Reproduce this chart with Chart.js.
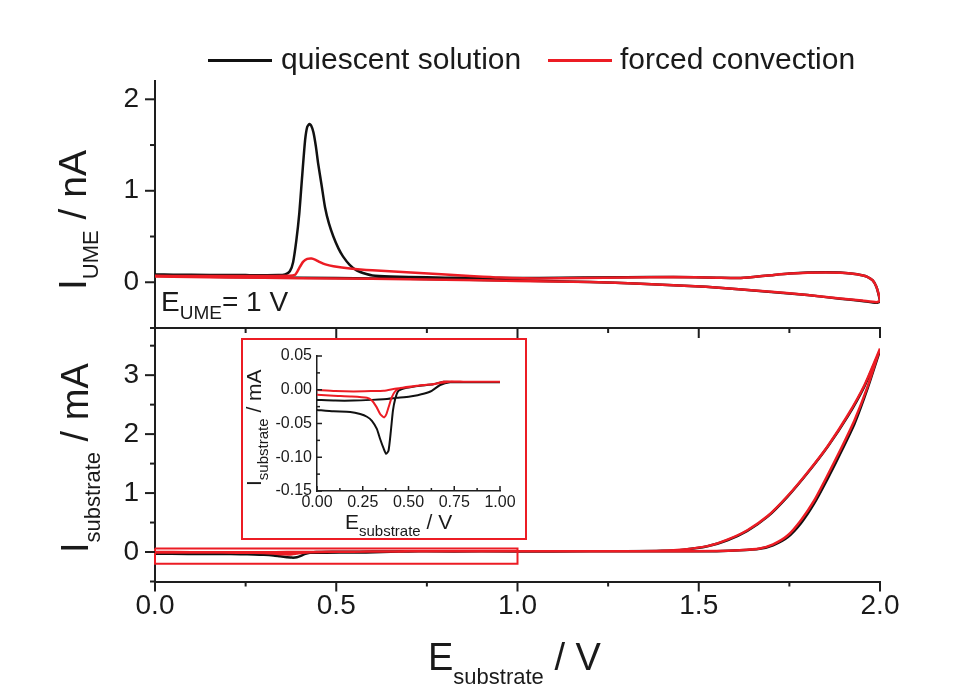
<!DOCTYPE html>
<html>
<head>
<meta charset="utf-8">
<script src="https://cdn.jsdelivr.net/npm/chart.js@4/dist/chart.umd.min.js"></script>
<style>
  html, body { margin: 0; padding: 0; background: #fff; }
  #stage { position: relative; width: 961px; height: 686px; overflow: hidden;
           font-family: 'Liberation Sans', Arial, sans-serif; color: #1a1a1a; }
  #stage canvas { position: absolute; left: 0; top: 0; }
  .txt { position: absolute; white-space: nowrap; line-height: 1; }
  .rot { transform: rotate(-90deg); transform-origin: 0 0; }
  .sub { position: relative; }
  #insetBox { position: absolute; left: 241px; top: 338px; width: 286px; height: 202px;
              box-sizing: border-box; border: 2px solid #ec1c24; background: #fff; }
  .swatch { position: absolute; height: 3px; }
</style>
</head>
<body>
<div id="stage">
  <canvas id="cvSub" width="961" height="686"></canvas>
  <canvas id="cvUme" width="961" height="686"></canvas>
  <div id="insetBox"></div>
  <canvas id="cvInset" width="961" height="686"></canvas>

  <div class="txt rot" style="left:53px; top:290px; font-size:39px;">I<span class="sub" style="font-size:22px; top:12px;">UME</span> / nA</div>
  <div class="txt rot" style="left:56px; top:553px; font-size:38px;">I<span class="sub" style="font-size:22px; top:12px;">substrate</span> / mA</div>
  <div class="txt" style="left:428px; top:638px; font-size:38px;">E<span class="sub" style="font-size:22px; top:14px;">substrate</span> / V</div>
  <div class="txt" style="left:161px; top:288px; font-size:28px;">E<span class="sub" style="font-size:19px; top:8px;">UME</span>= 1 V</div>
  <div class="txt rot" style="left:243px; top:486px; font-size:21px;">I<span class="sub" style="font-size:15px; top:7px;">substrate</span> / mA</div>
  <div class="txt" style="left:345px; top:511px; font-size:21px;">E<span class="sub" style="font-size:15px; top:7px;">substrate</span> / V</div>
  <div id="legend"></div>
</div>

<script>
// ---- series ----
const SERIES = ['quiescent solution', 'forced convection'];
const SERIES_COLORS = ['#111111', '#ec1c24'];

// ---- tick labels ----
const E_TICKS = [0, 0.5, 1.0, 1.5, 2.0];
const UME_TICKS = [0, 1, 2];
const SUB_TICKS = [0, 1, 2, 3];
const INSET_E_TICKS = [0, 0.25, 0.5, 0.75, 1.0];
const INSET_I_TICKS = [-0.15, -0.10, -0.05, 0.00, 0.05];

// ---- UME current (nA), anodic sweep 0 -> 2 V ----
const E_UME_FWD = [0, 0.2, 0.4, 0.6, 0.8, 1.0, 1.2, 1.34, 1.52, 1.7, 1.8, 1.89, 1.95, 1.99];
const I_UME_FWD_QUIESCENT = [0.07, 0.058, 0.05, 0.042, 0.032, 0.018, 0.004, -0.015, -0.05, -0.106, -0.14, -0.18, -0.205, -0.225];
const I_UME_FWD_CONVECTION = [0.062, 0.052, 0.045, 0.038, 0.028, 0.015, 0.002, -0.016, -0.05, -0.104, -0.138, -0.177, -0.2, -0.218];

// ---- UME current (nA), cathodic sweep 2 -> 0 V ----
const E_UME_REV_QUIESCENT = [2.0, 1.997, 1.99, 1.98, 1.965, 1.95, 1.92, 1.89, 1.85, 1.8, 1.75, 1.7, 1.65, 1.61, 1.55, 1.43, 1.3, 1.06, 0.9, 0.8, 0.7, 0.65, 0.6, 0.583, 0.556, 0.537, 0.519, 0.506, 0.492, 0.48, 0.469, 0.46, 0.45, 0.444, 0.437, 0.431, 0.426, 0.42, 0.414, 0.405, 0.398, 0.39, 0.381, 0.372, 0.359, 0.34, 0.25, 0.15, 0.05, 0];
const I_UME_REV_QUIESCENT = [-0.21, -0.15, -0.05, 0.02, 0.06, 0.077, 0.095, 0.106, 0.11, 0.106, 0.095, 0.077, 0.058, 0.047, 0.05, 0.058, 0.055, 0.047, 0.048, 0.05, 0.058, 0.064, 0.075, 0.09, 0.13, 0.19, 0.28, 0.37, 0.5, 0.64, 0.82, 1.05, 1.3, 1.48, 1.64, 1.71, 1.73, 1.7, 1.55, 1.11, 0.75, 0.46, 0.22, 0.12, 0.085, 0.078, 0.078, 0.08, 0.083, 0.085];
const E_UME_REV_CONVECTION = [2.0, 1.997, 1.99, 1.98, 1.965, 1.95, 1.92, 1.89, 1.85, 1.8, 1.75, 1.7, 1.65, 1.61, 1.55, 1.43, 1.3, 1.06, 0.95, 0.88, 0.79, 0.694, 0.6, 0.538, 0.492, 0.47, 0.455, 0.443, 0.432, 0.42, 0.409, 0.4, 0.393, 0.386, 0.37, 0.3, 0.2, 0.1, 0];
const I_UME_REV_CONVECTION = [-0.2, -0.14, -0.05, 0.02, 0.06, 0.077, 0.095, 0.105, 0.108, 0.105, 0.095, 0.077, 0.058, 0.047, 0.05, 0.058, 0.052, 0.042, 0.052, 0.066, 0.087, 0.11, 0.13, 0.15, 0.175, 0.195, 0.22, 0.245, 0.26, 0.255, 0.225, 0.17, 0.12, 0.08, 0.07, 0.068, 0.068, 0.068, 0.07];

// ---- substrate current (mA), anodic sweep 0 -> 2 V ----
const E_SUB_FWD = [0, 0.1, 0.2, 0.3, 0.364, 0.436, 0.509, 0.55, 0.582, 0.627, 0.673, 0.727, 0.8, 0.9, 1.0, 1.2, 1.4, 1.55, 1.613, 1.668, 1.705, 1.745, 1.782, 1.819, 1.856, 1.893, 1.93, 1.966, 2.0];
const I_SUB_FWD_QUIESCENT = [-0.015, -0.016, -0.016, -0.015, -0.014, -0.012, -0.010, -0.008, -0.006, -0.0015, 0.007, 0.011, 0.011, 0.011, 0.011, 0.011, 0.012, 0.015, 0.028, 0.055, 0.115, 0.25, 0.49, 0.83, 1.25, 1.7, 2.18, 2.78, 3.42];
const I_SUB_FWD_CONVECTION = [-0.0005, -0.002, -0.0025, -0.002, -0.0015, 0.002, 0.004, 0.006, 0.007, 0.008, 0.010, 0.012, 0.012, 0.012, 0.012, 0.012, 0.013, 0.016, 0.03, 0.06, 0.13, 0.28, 0.54, 0.88, 1.31, 1.76, 2.24, 2.81, 3.45];

// ---- substrate current (mA), cathodic sweep 2 -> 0 V ----
const E_SUB_REV_QUIESCENT = [2.0, 1.957, 1.911, 1.856, 1.8, 1.745, 1.69, 1.634, 1.579, 1.524, 1.459, 1.4, 1.3, 1.1, 0.9, 0.75, 0.69, 0.636, 0.564, 0.49, 0.445, 0.427, 0.415, 0.404, 0.391, 0.378, 0.364, 0.345, 0.327, 0.3, 0.273, 0.236, 0.182, 0.091, 0];
const I_SUB_REV_QUIESCENT = [3.42, 2.81, 2.3, 1.79, 1.34, 0.94, 0.6, 0.36, 0.2, 0.097, 0.04, 0.02, 0.013, 0.011, 0.011, 0.011, 0.012, 0.008, 0.006, 0.003, -0.0015, -0.014, -0.031, -0.06, -0.09, -0.095, -0.087, -0.073, -0.058, -0.046, -0.04, -0.036, -0.033, -0.032, -0.03];
const E_SUB_REV_CONVECTION = [2.0, 1.957, 1.911, 1.856, 1.8, 1.745, 1.69, 1.634, 1.579, 1.524, 1.459, 1.4, 1.3, 1.1, 0.9, 0.75, 0.69, 0.636, 0.545, 0.455, 0.427, 0.409, 0.391, 0.378, 0.367, 0.356, 0.345, 0.324, 0.3, 0.273, 0.182, 0.091, 0];
const I_SUB_REV_CONVECTION = [3.45, 2.83, 2.32, 1.8, 1.35, 0.95, 0.61, 0.37, 0.21, 0.1, 0.045, 0.022, 0.014, 0.012, 0.012, 0.012, 0.012, 0.008, 0.006, 0.0025, -0.0025, -0.011, -0.026, -0.037, -0.041, -0.039, -0.036, -0.025, -0.016, -0.012, -0.01, -0.009, -0.0075];

// ---- region of the substrate CV enlarged in the inset ----
const ZOOM_E = [0, 1.0];
const ZOOM_I = [-0.2, 0.06];

// ------------------------------------------------------------------
const AXIS_COLOR = '#1e1e1e';
const TEXT_COLOR = '#1a1a1a';
Chart.defaults.font.family = "'Liberation Sans', Arial, sans-serif";
Chart.defaults.color = TEXT_COLOR;

function loop(Ef, If, Er, Ir) {
  return Ef.map((e, i) => ({ x: e, y: If[i] }))
    .concat(Er.map((e, i) => ({ x: e, y: Ir[i] })));
}
function boxPath(E, I) {
  return [
    { x: E[0], y: I[1] }, { x: E[1], y: I[1] }, { x: E[1], y: I[0] },
    { x: E[0], y: I[0] }, { x: E[0], y: I[1] }
  ];
}
const fixedWidth = w => s => { s.width = w; };
const fixedHeight = h => s => { s.height = h; };
const ticksAt = vals => s => { s.ticks = vals.map(v => ({ value: v })); };

// major/minor tick marks drawn along each axis line
function tickMarks(spec) {
  return {
    id: 'tickMarks',
    afterDraw(chart) {
      const ctx = chart.ctx;
      ctx.save();
      ctx.strokeStyle = AXIS_COLOR;
      ctx.lineWidth = spec.width;
      for (const a of spec.axes) {
        const s = chart.scales[a.id];
        const first = Math.ceil(s.min / a.minor - 1e-6);
        const last = Math.floor(s.max / a.minor + 1e-6);
        for (let k = first; k <= last; k++) {
          const v = k * a.minor;
          const r = v / a.major;
          const isMajor = Math.abs(r - Math.round(r)) < 1e-6;
          const len = isMajor ? a.majorLen : a.minorLen;
          const p = s.getPixelForValue(v);
          ctx.beginPath();
          if (s.isHorizontal()) {
            const y0 = s.top;
            const dir = a.inward ? -1 : 1;
            ctx.moveTo(p, y0); ctx.lineTo(p, y0 + dir * len);
          } else {
            const x0 = s.right;
            const dir = a.inward ? 1 : -1;
            ctx.moveTo(x0, p); ctx.lineTo(x0 + dir * len, p);
          }
          ctx.stroke();
        }
      }
      ctx.restore();
    }
  };
}

function lineSet(label, data, color, order, width) {
  return { label, data, borderColor: color, backgroundColor: color, borderWidth: width,
           showLine: true, pointRadius: 0, tension: 0.2, fill: false, order };
}

const baseOptions = (padding) => ({
  responsive: false, animation: false, events: [],
  layout: { padding },
  plugins: { legend: { display: false }, tooltip: { enabled: false } }
});

const border = { display: true, color: AXIS_COLOR, width: 2 };
const noGrid = { display: false, drawTicks: false };

// ---- upper panel: UME current ----
new Chart(document.getElementById('cvUme'), {
  type: 'scatter',
  data: { datasets: [
    lineSet(SERIES[0], loop(E_UME_FWD, I_UME_FWD_QUIESCENT, E_UME_REV_QUIESCENT, I_UME_REV_QUIESCENT), SERIES_COLORS[0], 1, 2.5),
    lineSet(SERIES[1], loop(E_UME_FWD, I_UME_FWD_CONVECTION, E_UME_REV_CONVECTION, I_UME_REV_CONVECTION), SERIES_COLORS[1], 0, 2.5)
  ] },
  options: Object.assign(baseOptions({ left: 0, right: 81, top: 81, bottom: 358 }), {
    scales: {
      x: { type: 'linear', min: 0, max: 2, grid: noGrid, border, ticks: { display: false },
           afterFit: fixedHeight(0) },
      y: { type: 'linear', min: -0.5, max: 2.2, grid: noGrid, border,
           ticks: { font: { size: 28 }, padding: 16, color: TEXT_COLOR },
           afterBuildTicks: ticksAt(UME_TICKS), afterFit: fixedWidth(155) }
    }
  }),
  plugins: [tickMarks({ width: 2, axes: [
    { id: 'x', major: 0.5, minor: 0.25, majorLen: 10, minorLen: 5, inward: false },
    { id: 'y', major: 1, minor: 0.5, majorLen: 10, minorLen: 5, inward: false }
  ] })]
});

// ---- lower panel: substrate current ----
new Chart(document.getElementById('cvSub'), {
  type: 'scatter',
  data: { datasets: [
    lineSet(SERIES[0], loop(E_SUB_FWD, I_SUB_FWD_QUIESCENT, E_SUB_REV_QUIESCENT, I_SUB_REV_QUIESCENT), SERIES_COLORS[0], 2, 2.5),
    lineSet(SERIES[1], loop(E_SUB_FWD, I_SUB_FWD_CONVECTION, E_SUB_REV_CONVECTION, I_SUB_REV_CONVECTION), SERIES_COLORS[1], 1, 2.5),
    Object.assign(lineSet('zoom', boxPath(ZOOM_E, ZOOM_I), SERIES_COLORS[1], 0, 2), { tension: 0, clip: 4 })
  ] },
  options: Object.assign(baseOptions({ left: 0, right: 81, top: 328, bottom: 64.5 }), {
    scales: {
      x: { type: 'linear', min: 0, max: 2, grid: noGrid, border,
           ticks: { font: { size: 28 }, padding: 8, color: TEXT_COLOR, maxRotation: 0,
                    callback: v => v.toFixed(1) },
           afterBuildTicks: ticksAt(E_TICKS), afterFit: fixedHeight(40) },
      y: { type: 'linear', min: -0.5, max: 3.8, grid: noGrid, border,
           ticks: { font: { size: 28 }, padding: 16, color: TEXT_COLOR },
           afterBuildTicks: ticksAt(SUB_TICKS), afterFit: fixedWidth(155) }
    }
  }),
  plugins: [tickMarks({ width: 2, axes: [
    { id: 'x', major: 0.5, minor: 0.25, majorLen: 10, minorLen: 5, inward: false },
    { id: 'y', major: 1, minor: 0.5, majorLen: 10, minorLen: 5, inward: false }
  ] })]
});

// ---- inset: low-potential region of the substrate CV ----
new Chart(document.getElementById('cvInset'), {
  type: 'scatter',
  data: { datasets: [
    lineSet(SERIES[0], loop(E_SUB_FWD, I_SUB_FWD_QUIESCENT, E_SUB_REV_QUIESCENT, I_SUB_REV_QUIESCENT), SERIES_COLORS[0], 1, 2),
    lineSet(SERIES[1], loop(E_SUB_FWD, I_SUB_FWD_CONVECTION, E_SUB_REV_CONVECTION, I_SUB_REV_CONVECTION), SERIES_COLORS[1], 0, 2)
  ] },
  options: Object.assign(baseOptions({ left: 0, right: 461, top: 356, bottom: 170 }), {
    scales: {
      x: { type: 'linear', min: 0, max: 1, grid: noGrid, border: { display: true, color: AXIS_COLOR, width: 1.5 },
           ticks: { font: { size: 16 }, padding: 2, color: TEXT_COLOR, maxRotation: 0, autoSkip: false,
                    callback: v => v.toFixed(2) },
           afterBuildTicks: ticksAt(INSET_E_TICKS), afterFit: fixedHeight(25) },
      y: { type: 'linear', min: -0.15, max: 0.05, grid: noGrid, border: { display: true, color: AXIS_COLOR, width: 1.5 },
           ticks: { font: { size: 16 }, padding: 5, color: TEXT_COLOR,
                    callback: v => v.toFixed(2) },
           afterBuildTicks: ticksAt(INSET_I_TICKS), afterFit: fixedWidth(317) }
    }
  }),
  plugins: [tickMarks({ width: 1.5, axes: [
    { id: 'x', major: 0.25, minor: 0.125, majorLen: 5, minorLen: 3, inward: true },
    { id: 'y', major: 0.05, minor: 0.025, majorLen: 5, minorLen: 3, inward: true }
  ] })]
});

// ---- legend across the top ----
const LEGEND_SLOTS = [{ line: 208, text: 281 }, { line: 548, text: 620 }];
const legend = document.getElementById('legend');
SERIES.forEach((name, i) => {
  const sw = document.createElement('div');
  sw.className = 'swatch';
  sw.style.cssText = `left:${LEGEND_SLOTS[i].line}px; top:58.5px; width:64px; background:${SERIES_COLORS[i]};`;
  legend.appendChild(sw);
  const t = document.createElement('div');
  t.className = 'txt';
  t.style.cssText = `left:${LEGEND_SLOTS[i].text}px; top:44px; font-size:30px;`;
  t.textContent = name;
  legend.appendChild(t);
});
</script>
</body>
</html>
